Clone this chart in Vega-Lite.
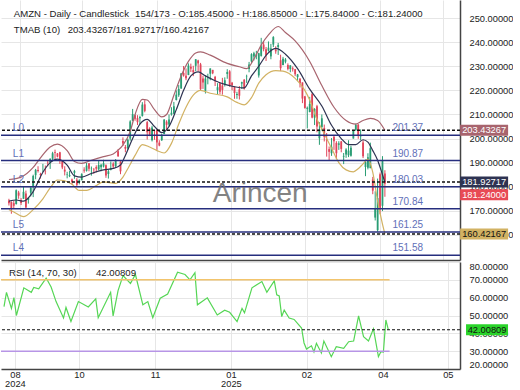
{
"$schema":"https://vega.github.io/schema/vega-lite/v6.json",
"padding":0,"spacing":2,"background":"white",
"config":{"view":{"stroke":null},"font":"Liberation Sans","text":{"font":"Liberation Sans"},
 "axis":{"labelOverlap":false,"ticks":false,"domain":true,"domainColor":"#444","domainWidth":1.5,"grid":true,"gridColor":"#e6e6e6","labelFontSize":9.3,"labelColor":"#222"}},
"datasets":{
"k":[
{"i":0,"o":174.2,"h":175,"l":172.2,"c":173.1},{"i":1,"o":173.7,"h":173.9,"l":168.8,"c":170.8},{"i":2,"o":173.2,"h":174.3,"l":170.8,"c":172.1},{"i":3,"o":172.8,"h":178.9,"l":172.6,"c":178.5},
{"i":4,"o":177.6,"h":178.3,"l":175,"c":176.3},{"i":5,"o":174.5,"h":175.3,"l":172.4,"c":173.3},{"i":6,"o":175,"h":179.9,"l":175,"c":177.9},{"i":7,"o":177.2,"h":178.4,"l":171.2,"c":171.4},
{"i":8,"o":174.5,"h":175.5,"l":173,"c":175.4},{"i":9,"o":177.5,"h":180,"l":176,"c":179.6},{"i":10,"o":180.1,"h":185,"l":175.7,"c":184.5},{"i":11,"o":184.8,"h":187.4,"l":183.1,"c":187},
{"i":12,"o":187,"h":188.5,"l":185.9,"c":186.5},{"i":13,"o":185.3,"h":185.8,"l":183.4,"c":184.9},{"i":14,"o":186.9,"h":189.5,"l":186.1,"c":186.9},{"i":15,"o":186.5,"h":188.8,"l":185.1,"c":186.4},
{"i":16,"o":190,"h":191,"l":188.5,"c":189.9},{"i":17,"o":190.2,"h":191.8,"l":187.4,"c":191.6},{"i":18,"o":191.6,"h":194.5,"l":190.6,"c":193.9},{"i":19,"o":194.3,"h":195.4,"l":190.8,"c":194},
{"i":20,"o":193.8,"h":194,"l":192.2,"c":192.5},{"i":21,"o":194.3,"h":194.5,"l":189.5,"c":191.2},{"i":22,"o":190.7,"h":190.9,"l":187.3,"c":188},{"i":23,"o":187.1,"h":188.5,"l":184.7,"c":186.3},
{"i":24,"o":184.9,"h":186.2,"l":183.5,"c":185.1},{"i":25,"o":184.4,"h":186.6,"l":184,"c":184.8},{"i":26,"o":183,"h":183.4,"l":180.9,"c":182},{"i":27,"o":185.8,"h":187,"l":183.3,"c":186.5},
{"i":28,"o":182.9,"h":183.6,"l":180.3,"c":180.8},{"i":29,"o":181.9,"h":183.1,"l":181,"c":182.7},{"i":30,"o":182.8,"h":185.6,"l":182.6,"c":185.2},{"i":31,"o":187.1,"h":188.1,"l":185.8,"c":186.7},
{"i":32,"o":186.6,"h":189.9,"l":186.3,"c":188.8},{"i":33,"o":189.8,"h":189.8,"l":186.4,"c":187.5},{"i":34,"o":187.6,"h":188.4,"l":184.6,"c":187.7},{"i":35,"o":187.1,"h":187.8,"l":185.4,"c":186.9},
{"i":36,"o":188.2,"h":188.9,"l":186,"c":187.5},{"i":37,"o":187.2,"h":190.7,"l":186.8,"c":189},{"i":38,"o":188.1,"h":189.5,"l":186.4,"c":189.1},{"i":39,"o":188.4,"h":191.2,"l":188,"c":189.7},
{"i":40,"o":188.9,"h":189.3,"l":183.7,"c":184.7},{"i":41,"o":185.3,"h":187.1,"l":183.4,"c":186.4},{"i":42,"o":187.1,"h":190.5,"l":186.8,"c":187.8},{"i":43,"o":189.6,"h":190.2,"l":187.5,"c":188.4},
{"i":44,"o":188.6,"h":191.5,"l":187.9,"c":190.8},{"i":45,"o":194.7,"h":195.6,"l":192.4,"c":192.7},{"i":46,"o":190.5,"h":190.6,"l":185.2,"c":186.4},{"i":47,"o":199,"h":200.5,"l":197,"c":197.9},
{"i":48,"o":196.5,"h":197.3,"l":194.3,"c":195.8},{"i":49,"o":196,"h":200,"l":195.4,"c":199.5},{"i":50,"o":200,"h":207.6,"l":199.1,"c":207.1},{"i":51,"o":207.4,"h":212.3,"l":207.2,"c":210.1},
{"i":52,"o":209.7,"h":210,"l":207.4,"c":208.2},{"i":53,"o":208.5,"h":209.7,"l":205.6,"c":206.8},{"i":54,"o":208.4,"h":209.5,"l":206,"c":208.9},{"i":55,"o":209.4,"h":215.1,"l":209.1,"c":214.1},
{"i":56,"o":214.2,"h":215.9,"l":210.9,"c":211.5},{"i":57,"o":206.8,"h":207.3,"l":199.6,"c":202.6},{"i":58,"o":204.2,"h":204.7,"l":201,"c":201.7},{"i":59,"o":199.3,"h":205.3,"l":198.8,"c":204.6},
{"i":60,"o":203,"h":203.1,"l":199.5,"c":202.9},{"i":61,"o":203.5,"h":203.9,"l":195.3,"c":198.4},{"i":62,"o":198.3,"h":199.3,"l":196.8,"c":197.1},{"i":63,"o":199.3,"h":202,"l":199,"c":201.5},
{"i":64,"o":201.9,"h":208,"l":201.8,"c":207.9},{"i":65,"o":207,"h":207.6,"l":203.5,"c":205.7},{"i":66,"o":205.8,"h":210,"l":205,"c":207.9},{"i":67,"o":210,"h":213,"l":209.5,"c":210.7},
{"i":68,"o":210.3,"h":215.2,"l":210.2,"c":213.4},{"i":69,"o":216,"h":220,"l":215.8,"c":218.2},{"i":70,"o":218,"h":222.2,"l":217.3,"c":220.6},{"i":71,"o":220.8,"h":227.2,"l":220.6,"c":227},
{"i":72,"o":227.2,"h":230.1,"l":225.7,"c":226.1},{"i":73,"o":226.1,"h":229.1,"l":224.2,"c":225},{"i":74,"o":226.4,"h":231.2,"l":226.3,"c":230.3},{"i":75,"o":229.8,"h":231.1,"l":227.6,"c":229},
{"i":76,"o":228.4,"h":230.2,"l":225.9,"c":227.5},{"i":77,"o":230.2,"h":233,"l":228,"c":232.9},{"i":78,"o":232.4,"h":232.7,"l":227.9,"c":231.2},{"i":79,"o":230.8,"h":231.4,"l":220.1,"c":220.5},
{"i":80,"o":224.9,"h":226.1,"l":220.6,"c":223.3},{"i":81,"o":219.8,"h":226.2,"l":218.7,"c":224.9},{"i":82,"o":225,"h":226.9,"l":222.5,"c":225.1},{"i":83,"o":226.9,"h":229.1,"l":224.2,"c":229.1},
{"i":84,"o":228.5,"h":228.5,"l":226.7,"c":227.1},{"i":85,"o":225.6,"h":226,"l":221.8,"c":223.8},{"i":86,"o":220.1,"h":223,"l":218.4,"c":221.3},{"i":87,"o":223,"h":223.2,"l":218.4,"c":219.4},
{"i":88,"o":222,"h":225.2,"l":218.2,"c":220.2},{"i":89,"o":222.5,"h":225.4,"l":221.6,"c":224.2},{"i":90,"o":226.8,"h":228.8,"l":224.8,"c":227.6},{"i":91,"o":227.9,"h":228.4,"l":221.5,"c":222.1},
{"i":92,"o":223.2,"h":223.5,"l":220,"c":222.1},{"i":93,"o":221.5,"h":221.7,"l":216.5,"c":218.9},{"i":94,"o":218.1,"h":219.4,"l":216.5,"c":218.5},{"i":95,"o":220.4,"h":221.8,"l":216.2,"c":217.8},
{"i":96,"o":222.8,"h":223.6,"l":220.6,"c":223.4},{"i":97,"o":224.4,"h":224.7,"l":220.3,"c":220.7},{"i":98,"o":225.8,"h":226.5,"l":223.1,"c":225.9},{"i":99,"o":228.9,"h":231.8,"l":227.5,"c":230.7},
{"i":100,"o":232,"h":235.4,"l":231.4,"c":235},{"i":101,"o":234.1,"h":236,"l":232.4,"c":235.4},{"i":102,"o":234.5,"h":236.4,"l":232.9,"c":234.9},{"i":103,"o":226.2,"h":235.6,"l":225.3,"c":235.4},
{"i":104,"o":234.3,"h":241.8,"l":234,"c":238.2},{"i":105,"o":239,"h":240.4,"l":236.2,"c":237.1},{"i":106,"o":237.1,"h":238,"l":232.2,"c":234.6},{"i":107,"o":236.5,"h":240.3,"l":236.1,"c":237.7},
{"i":108,"o":234.1,"h":239.3,"l":232.9,"c":237.4},{"i":109,"o":239,"h":242.5,"l":238,"c":242.1},{"i":110,"o":237,"h":238.3,"l":235.2,"c":236.2},{"i":111,"o":238,"h":239.7,"l":234.7,"c":238.8},
{"i":112,"o":232.5,"h":234.8,"l":228,"c":229.2},{"i":113,"o":230.5,"h":233.9,"l":230.4,"c":233.1},{"i":114,"o":231.9,"h":233.4,"l":231.2,"c":232.8},{"i":115,"o":230.5,"h":231.2,"l":228.3,"c":228.9},
{"i":116,"o":228.9,"h":230.4,"l":227.5,"c":230.4},{"i":117,"o":229.2,"h":229.9,"l":227.8,"c":228.7},{"i":118,"o":228.8,"h":228.9,"l":225.9,"c":226.7},{"i":119,"o":225.5,"h":226.8,"l":223.9,"c":226.6},
{"i":120,"o":224.8,"h":225.1,"l":221.2,"c":222.9},{"i":121,"o":223.3,"h":223.3,"l":214.7,"c":216.6},{"i":122,"o":217.5,"h":217.7,"l":212.4,"c":212.7},{"i":123,"o":212.3,"h":213.3,"l":204.2,"c":212.8},
{"i":124,"o":211,"h":217.3,"l":210.9,"c":214.4},{"i":125,"o":218.4,"h":219,"l":208.4,"c":208.7},{"i":126,"o":208.7,"h":212.6,"l":205.6,"c":212.3},{"i":127,"o":213.4,"h":214,"l":202.6,"c":205},
{"i":128,"o":200.1,"h":206.8,"l":197.4,"c":203.8},{"i":129,"o":204.8,"h":210,"l":203.3,"c":208.4},{"i":130,"o":204.4,"h":205.8,"l":198.8,"c":200.7},{"i":131,"o":199.5,"h":202.3,"l":192.5,"c":199.3},
{"i":132,"o":195.6,"h":196.7,"l":190.9,"c":194.5},{"i":133,"o":193.9,"h":200.2,"l":192.8,"c":196.6},{"i":134,"o":200.7,"h":201.5,"l":195.3,"c":198.9},{"i":135,"o":198.2,"h":198.9,"l":191.6,"c":193.9},
{"i":136,"o":197.4,"h":198.9,"l":195.3,"c":198},{"i":137,"o":198.8,"h":199,"l":194.3,"c":195.7},{"i":138,"o":192.5,"h":194,"l":189.4,"c":192.8},{"i":139,"o":193.4,"h":196,"l":192,"c":195.5},
{"i":140,"o":193.1,"h":199.3,"l":192.3,"c":195},{"i":141,"o":192.9,"h":197,"l":192.5,"c":196.2},{"i":142,"o":200,"h":203.6,"l":200,"c":203.3},{"i":143,"o":203.6,"h":206.2,"l":203.2,"c":205.7},
{"i":144,"o":205.8,"h":206,"l":199.9,"c":201.1},{"i":145,"o":200.9,"h":203.8,"l":199.3,"c":201.4},{"i":146,"o":198.4,"h":199.3,"l":191.9,"c":192.7},{"i":147,"o":188.2,"h":191.3,"l":184.4,"c":190.3},
{"i":148,"o":187.9,"h":193.9,"l":187.2,"c":192.2},{"i":149,"o":187.7,"h":198.3,"l":187.7,"c":196},{"i":150,"o":183,"h":184.1,"l":176.9,"c":178.4},{"i":151,"o":167.2,"h":178.1,"l":166,"c":171},
{"i":152,"o":162,"h":183.4,"l":161.4,"c":175.3},{"i":153,"o":185.2,"h":185.9,"l":168.6,"c":170.7},{"i":154,"o":172.1,"h":192.7,"l":169.9,"c":191.1},{"i":155,"o":185.45,"h":186.85,"l":175.84,"c":181.24}
],
"b":[
{"i":0,"s":"u","v":183},{"i":5,"s":"u","v":184},{"i":10,"s":"u","v":188},{"i":13,"s":"u","v":192},{"i":17,"s":"u","v":196.5},{"i":20,"s":"u","v":197.7},{"i":24,"s":"u","v":195},{"i":27,"s":"u","v":190.5},{"i":30,"s":"u","v":189.7},{"i":34,"s":"u","v":191},{"i":39,"s":"u","v":192.5},{"i":43,"s":"u","v":193.6},{"i":45,"s":"u","v":195.2},{"i":47,"s":"u","v":197.3},{"i":50,"s":"u","v":203},{"i":52,"s":"u","v":210},{"i":55,"s":"u","v":216.3},{"i":57,"s":"u","v":216},{"i":60,"s":"u","v":212},{"i":63,"s":"u","v":209},{"i":65,"s":"u","v":210},{"i":68,"s":"u","v":218},{"i":71,"s":"u","v":226},{"i":74,"s":"u","v":232},{"i":77,"s":"u","v":235.5},{"i":79,"s":"u","v":236},{"i":83,"s":"u","v":234.6},{"i":90,"s":"u","v":231.2},{"i":95,"s":"u","v":229.8},{"i":98,"s":"u","v":229},{"i":101,"s":"u","v":233},{"i":104,"s":"u","v":238.8},{"i":107,"s":"u","v":243},{"i":111,"s":"u","v":246.5},{"i":114,"s":"u","v":244},{"i":118,"s":"u","v":240.5},{"i":124,"s":"u","v":232},{"i":129,"s":"u","v":222},{"i":134,"s":"u","v":213},{"i":139,"s":"u","v":207.5},{"i":143,"s":"u","v":206},{"i":146,"s":"u","v":207.5},{"i":149,"s":"u","v":208.4},{"i":152,"s":"u","v":207.5},{"i":155,"s":"u","v":203.43},
{"i":0,"s":"m","v":174},{"i":3,"s":"m","v":174.5},{"i":6,"s":"m","v":174},{"i":10,"s":"m","v":178},{"i":14,"s":"m","v":186},{"i":17,"s":"m","v":190},{"i":20,"s":"m","v":191.5},{"i":24,"s":"m","v":189},{"i":27,"s":"m","v":184.5},{"i":30,"s":"m","v":184},{"i":34,"s":"m","v":185.5},{"i":39,"s":"m","v":187},{"i":43,"s":"m","v":187.6},{"i":46,"s":"m","v":189},{"i":48,"s":"m","v":193},{"i":51,"s":"m","v":200},{"i":54,"s":"m","v":206},{"i":57,"s":"m","v":208},{"i":60,"s":"m","v":205},{"i":63,"s":"m","v":202.5},{"i":66,"s":"m","v":205},{"i":69,"s":"m","v":212},{"i":72,"s":"m","v":220},{"i":75,"s":"m","v":226},{"i":78,"s":"m","v":227.7},{"i":81,"s":"m","v":226},{"i":85,"s":"m","v":224},{"i":89,"s":"m","v":222.5},{"i":93,"s":"m","v":221.5},{"i":97,"s":"m","v":221},{"i":100,"s":"m","v":226},{"i":103,"s":"m","v":230},{"i":106,"s":"m","v":234.5},{"i":110,"s":"m","v":237.4},{"i":114,"s":"m","v":235},{"i":119,"s":"m","v":229},{"i":124,"s":"m","v":220.5},{"i":129,"s":"m","v":213.5},{"i":133,"s":"m","v":205.5},{"i":137,"s":"m","v":200},{"i":140,"s":"m","v":197.5},{"i":143,"s":"m","v":197.5},{"i":146,"s":"m","v":199.5},{"i":148,"s":"m","v":198.5},{"i":150,"s":"m","v":195},{"i":152,"s":"m","v":191},{"i":154,"s":"m","v":185},{"i":155,"s":"m","v":181.93},
{"i":0,"s":"l","v":170.5},{"i":2,"s":"l","v":169.5},{"i":6,"s":"l","v":167.6},{"i":10,"s":"l","v":170.5},{"i":14,"s":"l","v":175},{"i":17,"s":"l","v":179.5},{"i":20,"s":"l","v":182.8},{"i":23,"s":"l","v":182.5},{"i":26,"s":"l","v":181},{"i":29,"s":"l","v":178.5},{"i":32,"s":"l","v":178.5},{"i":36,"s":"l","v":180.5},{"i":39,"s":"l","v":182},{"i":44,"s":"l","v":181.4},{"i":47,"s":"l","v":184},{"i":49,"s":"l","v":187.5},{"i":52,"s":"l","v":193},{"i":55,"s":"l","v":197.5},{"i":58,"s":"l","v":196.5},{"i":61,"s":"l","v":195},{"i":64,"s":"l","v":194},{"i":67,"s":"l","v":198},{"i":70,"s":"l","v":206},{"i":73,"s":"l","v":213},{"i":76,"s":"l","v":218},{"i":79,"s":"l","v":220},{"i":83,"s":"l","v":218.8},{"i":90,"s":"l","v":217.3},{"i":94,"s":"l","v":215},{"i":97,"s":"l","v":214},{"i":100,"s":"l","v":217},{"i":103,"s":"l","v":223},{"i":106,"s":"l","v":226.5},{"i":110,"s":"l","v":228.2},{"i":113,"s":"l","v":228},{"i":118,"s":"l","v":225},{"i":122,"s":"l","v":220},{"i":124,"s":"l","v":216},{"i":127,"s":"l","v":208},{"i":130,"s":"l","v":202},{"i":133,"s":"l","v":196},{"i":136,"s":"l","v":190},{"i":139,"s":"l","v":187},{"i":142,"s":"l","v":186.2},{"i":144,"s":"l","v":187.5},{"i":146,"s":"l","v":189.5},{"i":148,"s":"l","v":191.5},{"i":150,"s":"l","v":186},{"i":152,"s":"l","v":174},{"i":154,"s":"l","v":164.5},{"i":155,"s":"l","v":160.42}
],
"lv":[{"v":201.37,"n":"L0","t":"201.37"},{"v":190.87,"n":"L1","t":"190.87"},{"v":180.03,"n":"L2","t":"180.03"},{"v":170.84,"n":"","t":"170.84"},{"v":161.25,"n":"L5","t":"161.25"},{"v":151.58,"n":"L4","t":"151.58"}],
"dl":[{"v":203.43267},{"v":181.92717},{"v":160.42167}],
"tags":[{"k":"u","v":203.43267,"t":"203.43267"},{"k":"m","v":181.92717,"t":"181.92717"},{"k":"c","v":181.24,"t":"181.24000"},{"k":"l","v":160.42167,"t":"160.42167"}],
"hdr":[{"t":"AMZN - Daily - Candlestick","x":2.0,"y":250.6},{"t":"154/173 - O:185.45000 - H:186.85000 - L:175.84000 - C:181.24000","x":52.0,"y":250.6},{"t":"TMAB (10)","x":2.0,"y":243.65},{"t":"203.43267/181.92717/160.42167","x":24.2,"y":243.65}],
"rsi":[
{"i":0,"r":55},{"i":1,"r":63},{"i":3,"r":54},{"i":4,"r":60},{"i":5,"r":50},{"i":8,"r":65.5},{"i":11,"r":63},{"i":12,"r":65.7},{"i":14,"r":65},{"i":17,"r":71},{"i":19,"r":66},{"i":21,"r":57.8},{"i":24,"r":48.6},{"i":25,"r":54.5},{"i":27,"r":46.6},{"i":30,"r":57.8},{"i":34,"r":54.8},{"i":37,"r":59.3},{"i":38,"r":48.8},{"i":43,"r":63},{"i":44,"r":49.8},{"i":46,"r":64},{"i":48,"r":72.4},{"i":51,"r":68},{"i":53,"r":73},{"i":56,"r":56},{"i":58,"r":57.8},{"i":60,"r":48.8},{"i":63,"r":59.7},{"i":66,"r":62},{"i":70,"r":74.3},{"i":73,"r":73},{"i":75,"r":70},{"i":77,"r":74},{"i":78,"r":56},{"i":82,"r":59.9},{"i":86,"r":50.3},{"i":89,"r":53},{"i":91,"r":51.8},{"i":94,"r":46.6},{"i":96,"r":54},{"i":97,"r":51.5},{"i":100,"r":65.5},{"i":104,"r":69},{"i":106,"r":63},{"i":109,"r":69.4},{"i":110,"r":61.6},{"i":111,"r":61},{"i":112,"r":49.4},{"i":113,"r":53},{"i":115,"r":48.6},{"i":117,"r":47.8},{"i":120,"r":43},{"i":121,"r":34.6},{"i":122,"r":31.2},{"i":124,"r":33},{"i":125,"r":29.6},{"i":126,"r":34.4},{"i":128,"r":29},{"i":129,"r":35.7},{"i":132,"r":26.9},{"i":134,"r":32.5},{"i":137,"r":31.6},{"i":139,"r":35.3},{"i":141,"r":35.7},{"i":143,"r":49.8},{"i":145,"r":38.1},{"i":147,"r":35.7},{"i":149,"r":42.5},{"i":151,"r":26.9},{"i":152,"r":29.7},{"i":153,"r":29.5},{"i":154,"r":47.5},{"i":155,"r":42.00809}
]
},
"vconcat":[
{"width":459,"height":260,
"layer":[
{"data":{"name":"k"},"mark":{"type":"rule","strokeWidth":1},
 "encoding":{
  "x":{"field":"i","type":"quantitative","title":null,"scale":{"domain":[-1.21,183.9],"nice":false,"zero":false},"axis":{"values":[4.4,30.2,60.9,91.5,122,152.8,179],"labels":false}},
  "y":{"field":"l","type":"quantitative","title":null,"scale":{"domain":[149.6,257.5],"nice":false,"zero":false},"axis":{"orient":"right","values":[160,170,180,190,200,210,220,230,240,250],"format":".5f","labelPadding":9,"labelFlush":false}},
  "y2":{"field":"h"},
  "color":{"condition":{"test":"datum.c >= datum.o","value":"#2a9d74"},"value":"#e0455a"}}},
{"data":{"name":"k"},"mark":{"type":"bar","width":1.8},
 "encoding":{
  "x":{"field":"i","type":"quantitative","title":null,"scale":{"domain":[-1.21,183.9],"nice":false,"zero":false},"axis":{"values":[4.4,30.2,60.9,91.5,122,152.8,179],"labels":false}},
  "y":{"field":"o","type":"quantitative","title":null,"scale":{"domain":[149.6,257.5],"nice":false,"zero":false},"axis":{"orient":"right","values":[160,170,180,190,200,210,220,230,240,250],"format":".5f","labelPadding":9,"labelFlush":false}},
  "y2":{"field":"c"},
  "color":{"condition":{"test":"datum.c >= datum.o","value":"#2a9d74"},"value":"#e0455a"}}},
{"data":{"name":"b"},"mark":{"type":"line","strokeWidth":1.2,"interpolate":"monotone"},
 "encoding":{
  "x":{"field":"i","type":"quantitative","title":null,"scale":{"domain":[-1.21,183.9],"nice":false,"zero":false},"axis":{"values":[4.4,30.2,60.9,91.5,122,152.8,179],"labels":false}},
  "y":{"field":"v","type":"quantitative","title":null,"scale":{"domain":[149.6,257.5],"nice":false,"zero":false},"axis":{"orient":"right","values":[160,170,180,190,200,210,220,230,240,250],"format":".5f","labelPadding":9,"labelFlush":false}},
  "color":{"field":"s","type":"nominal","scale":{"domain":["u","m","l"],"range":["#a8646e","#2e3352","#d2b263"]},"legend":null}}},
{"data":{"name":"lv"},"mark":{"type":"rule","color":"#262e7e","strokeWidth":1.5},
 "encoding":{"y":{"field":"v","type":"quantitative","title":null,"scale":{"domain":[149.6,257.5],"nice":false,"zero":false},"axis":{"orient":"right","values":[160,170,180,190,200,210,220,230,240,250],"format":".5f","labelPadding":9,"labelFlush":false}}}},
{"data":{"name":"dl"},"mark":{"type":"rule","color":"#111","strokeWidth":1.5,"strokeDash":[3,2]},
 "encoding":{"y":{"field":"v","type":"quantitative","title":null,"scale":{"domain":[149.6,257.5],"nice":false,"zero":false},"axis":{"orient":"right","values":[160,170,180,190,200,210,220,230,240,250],"format":".5f","labelPadding":9,"labelFlush":false}}}},
{"data":{"name":"lv"},"mark":{"type":"text","align":"left","baseline":"alphabetic","dy":-4,"fontSize":10,"color":"#5f70b8"},
 "encoding":{"x":{"datum":1.6,"type":"quantitative","title":null,"scale":{"domain":[-1.21,183.9],"nice":false,"zero":false},"axis":{"values":[4.4,30.2,60.9,91.5,122,152.8,179],"labels":false}},
  "y":{"field":"v","type":"quantitative","title":null,"scale":{"domain":[149.6,257.5],"nice":false,"zero":false},"axis":{"orient":"right","values":[160,170,180,190,200,210,220,230,240,250],"format":".5f","labelPadding":9,"labelFlush":false}},
  "text":{"field":"n"}}},
{"data":{"name":"lv"},"mark":{"type":"text","align":"left","baseline":"alphabetic","dy":-4,"fontSize":10,"color":"#5f70b8"},
 "encoding":{"x":{"datum":158.1,"type":"quantitative","title":null,"scale":{"domain":[-1.21,183.9],"nice":false,"zero":false},"axis":{"values":[4.4,30.2,60.9,91.5,122,152.8,179],"labels":false}},
  "y":{"field":"v","type":"quantitative","title":null,"scale":{"domain":[149.6,257.5],"nice":false,"zero":false},"axis":{"orient":"right","values":[160,170,180,190,200,210,220,230,240,250],"format":".5f","labelPadding":9,"labelFlush":false}},
  "text":{"field":"t"}}},
{"data":{"values":[{"t":"Arincen","x":103.6,"y":173.6}]},"mark":{"type":"text","align":"center","baseline":"alphabetic","fontSize":28,"color":"#6e6e6e","opacity":0.85},
 "encoding":{"x":{"field":"x","type":"quantitative","title":null,"scale":{"domain":[-1.21,183.9],"nice":false,"zero":false},"axis":{"values":[4.4,30.2,60.9,91.5,122,152.8,179],"labels":false}},
  "y":{"field":"y","type":"quantitative","title":null,"scale":{"domain":[149.6,257.5],"nice":false,"zero":false},"axis":{"orient":"right","values":[160,170,180,190,200,210,220,230,240,250],"format":".5f","labelPadding":9,"labelFlush":false}},
  "text":{"field":"t"}}},
{"data":{"name":"hdr"},
 "mark":{"type":"text","align":"left","baseline":"alphabetic","fontSize":9.6,"color":"#222"},
 "encoding":{"x":{"field":"x","type":"quantitative","title":null,"scale":{"domain":[-1.21,183.9],"nice":false,"zero":false},"axis":{"values":[4.4,30.2,60.9,91.5,122,152.8,179],"labels":false}},
  "y":{"field":"y","type":"quantitative","title":null,"scale":{"domain":[149.6,257.5],"nice":false,"zero":false},"axis":{"orient":"right","values":[160,170,180,190,200,210,220,230,240,250],"format":".5f","labelPadding":9,"labelFlush":false}},
  "text":{"field":"t"}}},
{"data":{"name":"tags"},"transform":[{"filter":"datum.k != 'c'"}],"mark":{"type":"tick","orient":"horizontal","size":48,"thickness":11,"opacity":1},
 "encoding":{"x":{"datum":195.9,"type":"quantitative","title":null,"scale":{"domain":[-1.21,183.9],"nice":false,"zero":false},"axis":{"values":[4.4,30.2,60.9,91.5,122,152.8,179],"labels":false}},
  "y":{"field":"v","type":"quantitative","title":null,"scale":{"domain":[149.6,257.5],"nice":false,"zero":false},"axis":{"orient":"right","values":[160,170,180,190,200,210,220,230,240,250],"format":".5f","labelPadding":9,"labelFlush":false}},
  "color":{"field":"k","type":"nominal","scale":{"domain":["u","m","l"],"range":["#b03a3e","#1c2a6e","#c9a23a"]},"legend":null}}},
{"data":{"name":"tags"},"transform":[{"filter":"datum.k == 'c'"}],"mark":{"type":"tick","orient":"horizontal","size":48,"thickness":11,"opacity":1,"yOffset":11,"color":"#e84a55"},
 "encoding":{"x":{"datum":195.9,"type":"quantitative","title":null,"scale":{"domain":[-1.21,183.9],"nice":false,"zero":false},"axis":{"values":[4.4,30.2,60.9,91.5,122,152.8,179],"labels":false}},
  "y":{"field":"v","type":"quantitative","title":null,"scale":{"domain":[149.6,257.5],"nice":false,"zero":false},"axis":{"orient":"right","values":[160,170,180,190,200,210,220,230,240,250],"format":".5f","labelPadding":9,"labelFlush":false}}}},
{"data":{"name":"tags"},"transform":[{"filter":"datum.k != 'c'"}],"mark":{"type":"text","align":"center","baseline":"middle","fontSize":9.3},
 "encoding":{"x":{"datum":195.9,"type":"quantitative","title":null,"scale":{"domain":[-1.21,183.9],"nice":false,"zero":false},"axis":{"values":[4.4,30.2,60.9,91.5,122,152.8,179],"labels":false}},
  "y":{"field":"v","type":"quantitative","title":null,"scale":{"domain":[149.6,257.5],"nice":false,"zero":false},"axis":{"orient":"right","values":[160,170,180,190,200,210,220,230,240,250],"format":".5f","labelPadding":9,"labelFlush":false}},
  "text":{"field":"t"},
  "color":{"condition":{"test":"datum.k == 'l'","value":"#111"},"value":"#ffffff"}}},
{"data":{"name":"tags"},"transform":[{"filter":"datum.k == 'c'"}],"mark":{"type":"text","align":"center","baseline":"middle","fontSize":9.3,"dy":11,"color":"#ffffff"},
 "encoding":{"x":{"datum":195.9,"type":"quantitative","title":null,"scale":{"domain":[-1.21,183.9],"nice":false,"zero":false},"axis":{"values":[4.4,30.2,60.9,91.5,122,152.8,179],"labels":false}},
  "y":{"field":"v","type":"quantitative","title":null,"scale":{"domain":[149.6,257.5],"nice":false,"zero":false},"axis":{"orient":"right","values":[160,170,180,190,200,210,220,230,240,250],"format":".5f","labelPadding":9,"labelFlush":false}},
  "text":{"field":"t"}}}
]},
{"width":459,"height":107,
"layer":[
{"data":{"name":"rsi"},"mark":{"type":"line","color":"#55d655","strokeWidth":1.2},
 "encoding":{
  "x":{"field":"i","type":"quantitative","title":null,"scale":{"domain":[-1.21,183.9],"nice":false,"zero":false},"axis":{"values":[4.4,30.2,60.9,91.5,122,152.8,179],"labelExpr":"datum.value < 10 ? ['08','2024'] : datum.value < 40 ? '10' : datum.value < 70 ? '11' : datum.value < 100 ? ['01','2025'] : datum.value < 130 ? '02' : datum.value < 160 ? '04' : '05'","labelFlush":false,"labelLineHeight":9,"labelPadding":1}},
  "y":{"field":"r","type":"quantitative","title":null,"scale":{"domain":[20,80],"nice":false,"zero":false},"axis":{"orient":"right","values":[20,30,40,50,60,70,80],"format":".5f","labelPadding":9,"labelFlush":true}}}},
{"data":{"values":[{"v":70,"a":-1.21,"b":155.5}]},"mark":{"type":"rule","color":"#f2c46c","strokeWidth":1.5},
 "encoding":{"x":{"field":"a","type":"quantitative","title":null,"scale":{"domain":[-1.21,183.9],"nice":false,"zero":false},"axis":{"values":[4.4,30.2,60.9,91.5,122,152.8,179],"labelExpr":"datum.value < 10 ? ['08','2024'] : datum.value < 40 ? '10' : datum.value < 70 ? '11' : datum.value < 100 ? ['01','2025'] : datum.value < 130 ? '02' : datum.value < 160 ? '04' : '05'","labelFlush":false,"labelLineHeight":9,"labelPadding":1}},"x2":{"field":"b"},
  "y":{"field":"v","type":"quantitative","title":null,"scale":{"domain":[20,80],"nice":false,"zero":false},"axis":{"orient":"right","values":[20,30,40,50,60,70,80],"format":".5f","labelPadding":9,"labelFlush":true}}}},
{"data":{"values":[{"v":30,"a":-1.21,"b":155.5}]},"mark":{"type":"rule","color":"#b795e6","strokeWidth":1.5},
 "encoding":{"x":{"field":"a","type":"quantitative","title":null,"scale":{"domain":[-1.21,183.9],"nice":false,"zero":false},"axis":{"values":[4.4,30.2,60.9,91.5,122,152.8,179],"labelExpr":"datum.value < 10 ? ['08','2024'] : datum.value < 40 ? '10' : datum.value < 70 ? '11' : datum.value < 100 ? ['01','2025'] : datum.value < 130 ? '02' : datum.value < 160 ? '04' : '05'","labelFlush":false,"labelLineHeight":9,"labelPadding":1}},"x2":{"field":"b"},
  "y":{"field":"v","type":"quantitative","title":null,"scale":{"domain":[20,80],"nice":false,"zero":false},"axis":{"orient":"right","values":[20,30,40,50,60,70,80],"format":".5f","labelPadding":9,"labelFlush":true}}}},
{"data":{"values":[{"v":42.00809}]},"mark":{"type":"rule","color":"#111","strokeWidth":1.2,"strokeDash":[3,2]},
 "encoding":{"y":{"field":"v","type":"quantitative","title":null,"scale":{"domain":[20,80],"nice":false,"zero":false},"axis":{"orient":"right","values":[20,30,40,50,60,70,80],"format":".5f","labelPadding":9,"labelFlush":true}}}},
{"data":{"values":[{"t":"RSI (14, 70, 30)","x":2.0,"y":72.3},{"t":"42.00809","x":37.1,"y":72.3}]},"mark":{"type":"text","align":"left","baseline":"alphabetic","fontSize":9.6,"color":"#222"},
 "encoding":{"x":{"field":"x","type":"quantitative","title":null,"scale":{"domain":[-1.21,183.9],"nice":false,"zero":false},"axis":{"values":[4.4,30.2,60.9,91.5,122,152.8,179],"labelExpr":"datum.value < 10 ? ['08','2024'] : datum.value < 40 ? '10' : datum.value < 70 ? '11' : datum.value < 100 ? ['01','2025'] : datum.value < 130 ? '02' : datum.value < 160 ? '04' : '05'","labelFlush":false,"labelLineHeight":9,"labelPadding":1}},
  "y":{"field":"y","type":"quantitative","title":null,"scale":{"domain":[20,80],"nice":false,"zero":false},"axis":{"orient":"right","values":[20,30,40,50,60,70,80],"format":".5f","labelPadding":9,"labelFlush":true}},
  "text":{"field":"t"}}},
{"data":{"values":[{"v":42.00809,"t":"42.00809","x":194.8}]},"mark":{"type":"tick","orient":"horizontal","size":42,"thickness":11,"opacity":1,"color":"#2ad42a"},
 "encoding":{"x":{"field":"x","type":"quantitative","title":null,"scale":{"domain":[-1.21,183.9],"nice":false,"zero":false},"axis":{"values":[4.4,30.2,60.9,91.5,122,152.8,179],"labelExpr":"datum.value < 10 ? ['08','2024'] : datum.value < 40 ? '10' : datum.value < 70 ? '11' : datum.value < 100 ? ['01','2025'] : datum.value < 130 ? '02' : datum.value < 160 ? '04' : '05'","labelFlush":false,"labelLineHeight":9,"labelPadding":1}},
  "y":{"field":"v","type":"quantitative","title":null,"scale":{"domain":[20,80],"nice":false,"zero":false},"axis":{"orient":"right","values":[20,30,40,50,60,70,80],"format":".5f","labelPadding":9,"labelFlush":true}}}},
{"data":{"values":[{"v":42.00809,"t":"42.00809","x":194.8}]},"mark":{"type":"text","align":"center","baseline":"middle","fontSize":9.3,"color":"#111"},
 "encoding":{"x":{"field":"x","type":"quantitative","title":null,"scale":{"domain":[-1.21,183.9],"nice":false,"zero":false},"axis":{"values":[4.4,30.2,60.9,91.5,122,152.8,179],"labelExpr":"datum.value < 10 ? ['08','2024'] : datum.value < 40 ? '10' : datum.value < 70 ? '11' : datum.value < 100 ? ['01','2025'] : datum.value < 130 ? '02' : datum.value < 160 ? '04' : '05'","labelFlush":false,"labelLineHeight":9,"labelPadding":1}},
  "y":{"field":"v","type":"quantitative","title":null,"scale":{"domain":[20,80],"nice":false,"zero":false},"axis":{"orient":"right","values":[20,30,40,50,60,70,80],"format":".5f","labelPadding":9,"labelFlush":true}},
  "text":{"field":"t"}}}
]}
]
}
